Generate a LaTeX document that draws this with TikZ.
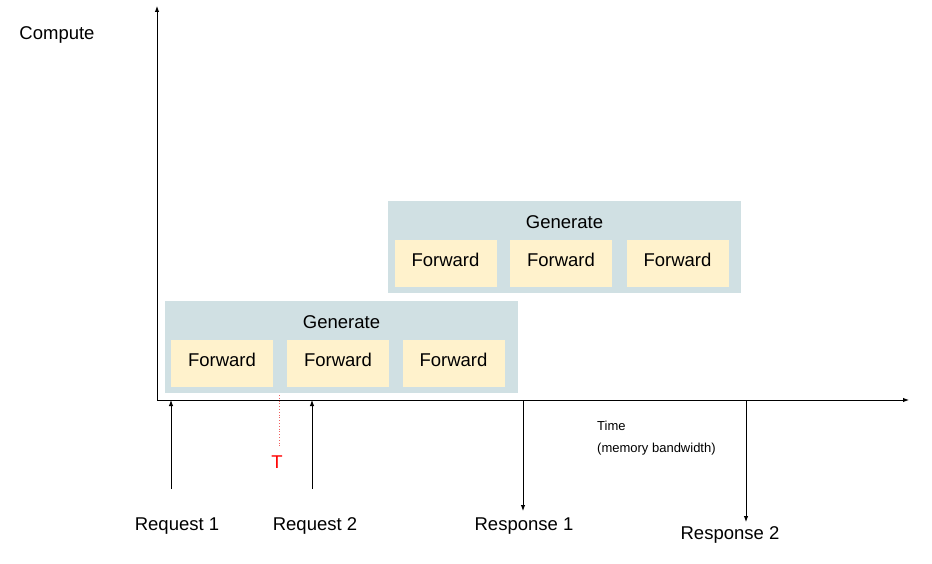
\documentclass[tikz,border=0pt]{standalone}
\usepackage{fontspec}
\setmainfont{Liberation Sans}
\usetikzlibrary{arrows.meta}
\definecolor{genfill}{HTML}{D0E0E3}
\definecolor{fwdfill}{HTML}{FFF2CC}
\definecolor{tline}{HTML}{F06060}
\begin{document}
\begin{tikzpicture}[x=1pt,y=-1pt,
  genbox/.style={rectangle,fill=genfill,draw=none,minimum width=353pt,minimum height=92pt,inner sep=0pt},
  fwdbox/.style={rectangle,fill=fwdfill,draw=none,minimum width=102pt,minimum height=47pt,inner sep=0pt,text depth=7pt,font=\fontsize{18.5}{20}\selectfont},
  lbl/.style={inner sep=0pt,font=\fontsize{18.5}{20}\selectfont},
  baselbl/.style={inner sep=0pt,anchor=base,font=\fontsize{18.5}{20}\selectfont},
  small/.style={inner sep=0pt,anchor=west,font=\fontsize{13}{14}\selectfont},
  axis/.style={line width=1pt,-{Latex[length=6pt,width=4.5pt]}},
  evt/.style={line width=0.9pt,-{Latex[length=6pt,width=4.5pt]}}]
\useasboundingbox (0,0) rectangle (932,564);
% boxes
\node[genbox] (g1) at (341.5,347) {};
\node[lbl] (g1t) at (341.5,322) {Generate};
\node[fwdbox] (f11) at (222,363.5) {Forward};
\node[fwdbox] (f12) at (338,363.5) {Forward};
\node[fwdbox] (f13) at (453.5,363.5) {Forward};
\node[genbox] (g2) at (564.5,247) {};
\node[lbl] (g2t) at (564.5,222) {Generate};
\node[fwdbox] (f21) at (445.5,263.5) {Forward};
\node[fwdbox] (f22) at (561,263.5) {Forward};
\node[fwdbox] (f23) at (677.5,263.5) {Forward};
% axes
\coordinate (o) at (157,400);
\coordinate (ytip) at (157,6);
\coordinate (xtip) at (909,400);
\draw[axis] (o) -- (ytip);
\draw[axis] (o) -- (xtip);
\node[baselbl] (compute) at (57,39.5) {Compute};
\node[small] (time) at (597,426) {Time};
\node[small] (mem) at (597,449) {(memory bandwidth)};
% requests
\coordinate (r1s) at (171,489);
\coordinate (r1e) at (171,400);
\coordinate (r2s) at (312,489);
\coordinate (r2e) at (312,400);
\draw[evt] (r1s) -- (r1e);
\draw[evt] (r2s) -- (r2e);
\node[baselbl] (req1) at (177,530.5) {Request 1};
\node[baselbl] (req2) at (315,530.5) {Request 2};
% responses
\coordinate (p1s) at (523,400);
\coordinate (p1e) at (523,511);
\coordinate (p2s) at (746,400);
\coordinate (p2e) at (746,522);
\draw[evt] (p1s) -- (p1e);
\draw[evt] (p2s) -- (p2e);
\node[baselbl] (resp1) at (524,530.5) {Response 1};
\node[baselbl] (resp2) at (730,539.5) {Response 2};
% T marker
\coordinate (ts) at (279,395);
\node[lbl,text=red] (T) at (277,462) {T};
\draw[tline,line width=0.8pt,dotted] (ts) -- (279,448);
\end{tikzpicture}
\end{document}
